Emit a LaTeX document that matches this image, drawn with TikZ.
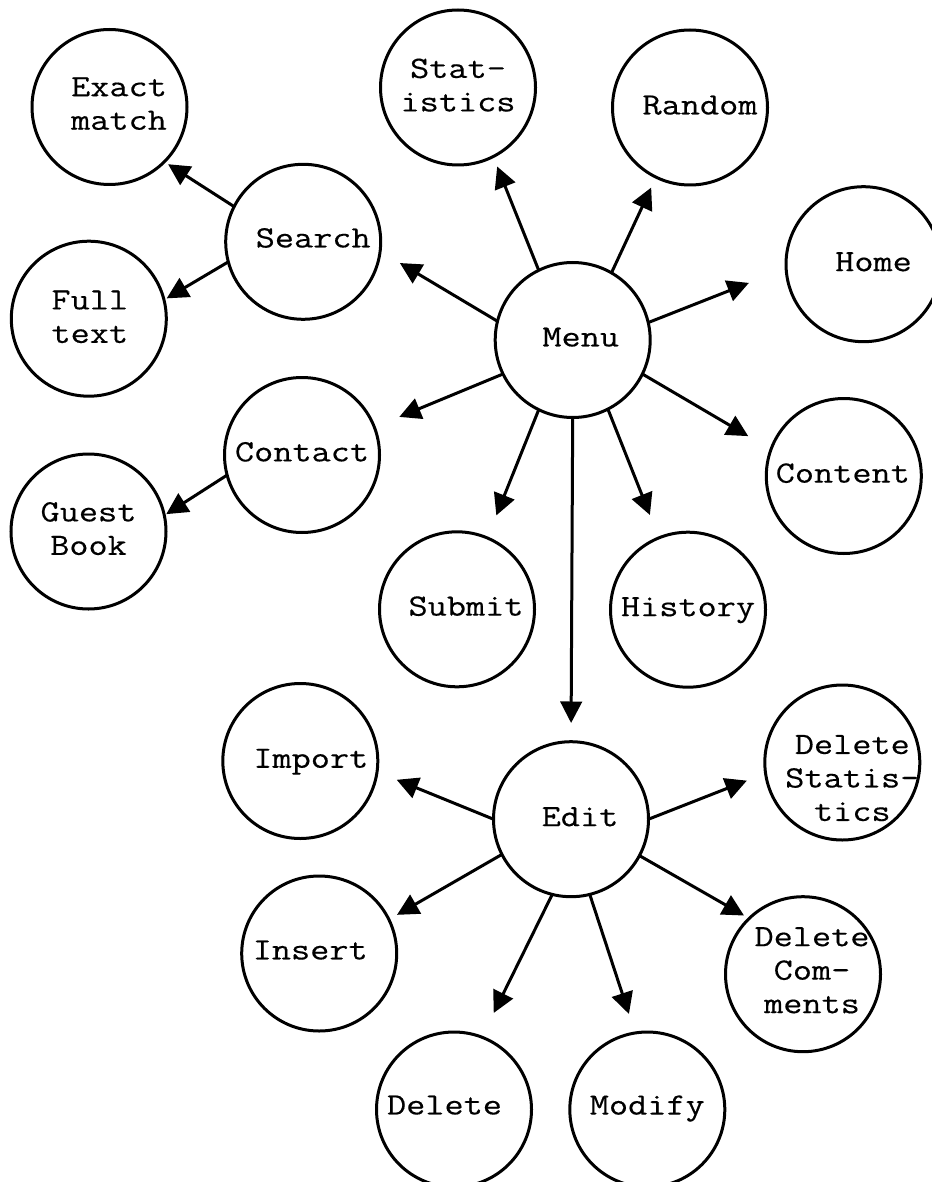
\documentclass[tikz,border=0pt]{standalone}
\usepackage{fontspec}
\newfontfamily\monof[FakeStretch=1.2,FakeBold=0.35]{Latin Modern Mono}
\usetikzlibrary{arrows.meta}
\tikzset{
  bub/.style={circle, draw, line width=3pt, minimum size=155pt, inner sep=0pt, outer sep=0pt},
  arr/.style={line width=3pt, -{Triangle[length=21.5pt,width=21.5pt]}},
  lbl/.style={font={\monof\fontsize{31}{33.5}\selectfont}, align=center, text depth=0pt, inner sep=0pt, outer sep=0pt},
  bt/.style n args={3}{label={[lbl, xshift=#1pt, yshift=#2pt]center:{#3}}},
}
\begin{document}
\begin{tikzpicture}[x=1pt,y=-1pt]
\path[fill=white, use as bounding box] (0,0) rectangle (931,1182);

% nodes
\node[bub, bt={9.5}{3.5}{Exact\\match}] (exact) at (109.5,107) {};
\node[bub, bt={0}{2.5}{Stat-\\istics}] (stat) at (458,87.5) {};
\node[bub, bt={10}{2.5}{Random}] (random) at (690,107.5) {};
\node[bub, bt={10}{4}{Search}] (search) at (303.2,241.8) {};
\node[bub, bt={1}{2}{Full\\text}] (full) at (88.8,318.7) {};
\node[bub, bt={8}{3}{Menu}] (menu) at (572.7,340) {};
\node[bub, bt={10}{2.5}{Home}] (home) at (863.5,264.2) {};
\node[bub, bt={0}{3.3}{Contact}] (contact) at (302,455) {};
\node[bub, bt={0}{3}{Guest\\Book}] (guest) at (88.5,531.5) {};
\node[bub, bt={-1}{3}{Content}] (content) at (843.8,476) {};
\node[bub, bt={9}{3.3}{Submit}] (submit) at (457,609.3) {};
\node[bub, bt={0}{3}{History}] (history) at (688,609.7) {};
\node[bub, bt={9}{2.5}{Edit}] (edit) at (571,819.2) {};
\node[bub, bt={10.5}{2.7}{Import}] (import) at (300.3,761) {};
\node[bub, bt={10}{-15.5}{Delete\\Statis-\\tics}] (delstat) at (842.3,762.5) {};
\node[bub, bt={-9}{3.5}{Insert}] (insert) at (319.2,953.5) {};
\node[bub, bt={9}{4}{Delete\\Com-\\ments}] (delcom) at (803,974.2) {};
\node[bub, bt={-9.5}{4.5}{Delete}] (delete) at (454,1109.5) {};
\node[bub, bt={0}{4.5}{Modify}] (modify) at (647.3,1109.5) {};

% connectors from Menu
\draw[arr, shorten >=10.7pt] (menu.116) -- (stat.-63);
\draw[arr, shorten >=11.5pt] (menu.60) -- (random.-116);
\draw[arr, shorten >=23pt] (menu.166.5) -- (search.-7);
\draw[arr, shorten >=27pt] (menu.206.5) -- (contact.21.6);
\draw[arr, shorten >=40pt] (menu.13.5) -- (home.183);
\draw[arr, shorten >=26.4pt] (menu.-26.5) -- (content.160.6);
\draw[arr, shorten >=24.3pt] (menu.-116.5) -- (submit.67.8);
\draw[arr, shorten >=18.7pt] (menu.-90) -- (edit.90);
\draw[arr, shorten >=24.6pt] (menu.-63.5) -- (history.112);

% connectors from Search and Contact
\draw[arr, shorten >=4.5pt] (search.153.5) -- (exact.-45.8);
\draw[arr, shorten >=3.1pt] (search.195.3) -- (full.14);
\draw[arr, shorten >=2.3pt] (contact.195) -- (guest.12.9);

% connectors from Edit
\draw[arr, shorten >=21.2pt] (edit.180) -- (import.-8.2);
\draw[arr, shorten >=9.4pt] (edit.207) -- (insert.26.7);
\draw[arr, shorten >=27pt] (edit.-104.5) -- (delete.69.7);
\draw[arr, shorten >=20pt] (edit.-76) -- (modify.99.1);
\draw[arr, shorten >=20.1pt] (edit.0) -- (delstat.188.9);
\draw[arr, shorten >=5.9pt] (edit.-28) -- (delcom.134.6);
\end{tikzpicture}
\end{document}
